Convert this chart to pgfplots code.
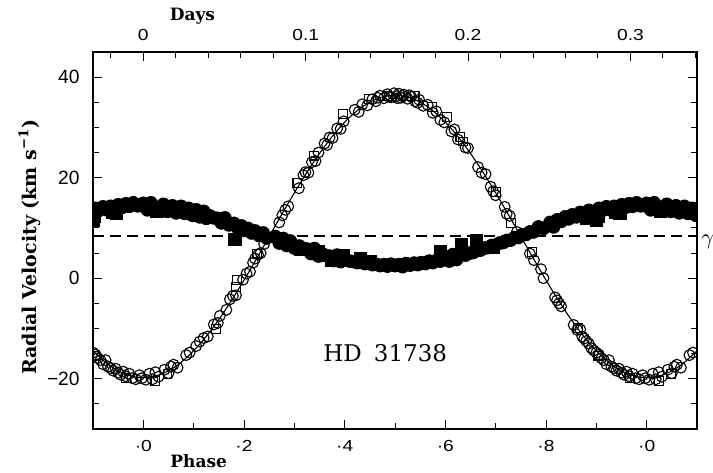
\documentclass[border=0pt]{standalone}
\usepackage{fontspec}
\setmainfont{DejaVu Serif}
\newfontfamily\ticksf{Liberation Sans}
\newfontfamily\ticksfx{Liberation Sans}[FakeStretch=1.2]
\usepackage{pgfplots}
\usepackage{pgfplotstable}
\pgfplotsset{compat=1.18}

% primary, open circles
\pgfplotstableread{
p v
0.005 -20.2
0.012 -19.0
0.018 -20.1
0.024 -18.7
0.030 -19.6
0.042 -18.2
0.050 -18.9
0.055 -17.6
0.060 -17.2
0.068 -17.8
0.085 -15.3
0.092 -14.8
0.105 -13.5
0.112 -12.6
0.120 -11.9
0.128 -11.6
0.140 -9.2
0.148 -8.9
0.152 -7.5
0.165 -6.3
0.172 -4.2
0.178 -3.5
0.184 -3.4
0.198 -0.3
0.205 0.9
0.212 1.3
0.218 3.1
0.222 3.9
0.228 4.7
0.233 5.0
0.240 6.8
0.245 7.9
0.270 11.1
0.276 12.5
0.282 13.6
0.288 14.3
0.309 17.9
0.318 20.5
0.322 21.1
0.328 21.0
0.335 23.1
0.342 23.3
0.348 25.0
0.360 26.8
0.365 26.5
0.370 28.0
0.376 27.9
0.385 29.8
0.392 29.7
0.398 31.2
0.420 33.5
0.428 33.1
0.435 34.6
0.445 34.4
0.455 35.6
0.462 35.2
0.466 35.9
0.470 36.3
0.478 35.8
0.485 36.6
0.488 36.1
0.492 36.0
0.498 36.8
0.503 36.2
0.505 35.8
0.508 36.7
0.512 35.9
0.515 36.3
0.518 36.5
0.525 35.7
0.528 36.4
0.532 36.1
0.540 35.2
0.545 34.9
0.548 35.5
0.556 34.3
0.565 34.5
0.575 32.9
0.582 33.2
0.590 31.5
0.598 31.0
0.612 29.2
0.618 29.6
0.625 27.6
0.640 26.0
0.645 25.9
0.665 22.1
0.672 21.0
0.680 20.7
0.690 18.2
0.695 17.3
0.700 16.5
0.718 14.2
0.722 12.8
0.728 12.4
0.742 9.2
0.748 8.4
0.768 4.9
0.776 3.6
0.790 1.8
0.795 0.0
0.818 -3.8
0.822 -4.4
0.826 -5.0
0.830 -5.6
0.855 -9.3
0.862 -10.3
0.868 -10.2
0.872 -11.6
0.876 -12.0
0.880 -12.5
0.885 -13.0
0.890 -13.9
0.895 -14.4
0.900 -14.8
0.905 -15.2
0.910 -15.9
0.915 -16.3
0.920 -17.1
0.925 -16.3
0.930 -17.6
0.935 -17.9
0.940 -18.4
0.945 -18.0
0.950 -18.8
0.955 -19.2
0.960 -18.6
0.965 -19.5
0.972 -19.0
0.978 -19.9
0.985 -20.1
0.992 -19.3
0.997 -19.9
}\priCirc

% primary, open squares
\pgfplotstableread{
p v
0.024 -20.5
0.048 -19.0
0.144 -10.1
0.184 -1.8
0.186 -0.3
0.226 4.9
0.306 18.9
0.339 24.4
0.397 32.7
0.448 35.7
0.484 36.3
0.539 36.2
0.574 34.1
0.603 32.1
0.630 28.1
0.635 27.2
0.700 17.1
0.730 11.0
0.772 5.2
0.863 -9.9
0.904 -15.4
0.966 -19.9
}\priSq

% secondary, filled circles
\pgfplotstableread{
p v
0.000 14.9
0.008 13.6
0.015 15.0
0.022 14.2
0.040 14.7
0.048 13.3
0.058 14.4
0.065 13.0
0.075 14.3
0.082 12.9
0.090 13.9
0.098 12.5
0.105 13.6
0.112 12.2
0.120 13.3
0.125 11.9
0.132 12.4
0.140 12.0
0.148 11.9
0.155 11.0
0.162 12.0
0.170 10.6
0.180 10.9
0.188 9.9
0.195 10.4
0.200 9.5
0.208 9.9
0.215 9.0
0.222 9.4
0.230 8.5
0.238 9.0
0.245 8.0
0.262 8.3
0.270 7.0
0.278 7.9
0.285 6.5
0.292 7.4
0.300 6.0
0.310 6.4
0.318 5.9
0.325 5.8
0.333 4.9
0.340 5.9
0.348 4.4
0.355 4.9
0.362 4.5
0.370 4.4
0.378 3.5
0.385 4.6
0.392 3.3
0.400 3.7
0.410 3.4
0.418 3.3
0.425 3.1
0.432 3.2
0.440 2.9
0.448 3.0
0.455 2.7
0.462 2.8
0.470 2.5
0.478 2.7
0.485 2.4
0.492 2.8
0.500 2.5
0.508 2.7
0.515 2.3
0.522 2.9
0.530 2.6
0.538 3.0
0.545 2.7
0.552 3.1
0.560 2.9
0.568 3.4
0.575 3.1
0.582 3.5
0.590 3.4
0.600 4.3
0.608 3.4
0.615 4.7
0.622 3.7
0.630 5.0
0.640 4.6
0.648 5.0
0.655 5.1
0.662 5.5
0.670 5.6
0.678 6.0
0.685 6.1
0.692 6.5
0.700 6.6
0.708 7.0
0.715 7.1
0.722 7.5
0.730 7.6
0.738 8.1
0.745 8.1
0.752 8.6
0.760 8.7
0.768 9.2
0.775 9.2
0.785 10.2
0.795 9.9
0.808 11.1
0.815 10.2
0.822 11.6
0.830 11.3
0.838 12.2
0.845 11.8
0.852 12.6
0.860 12.2
0.868 13.1
0.875 12.6
0.885 13.5
0.892 13.0
0.905 13.9
0.912 13.5
0.920 14.2
0.928 13.6
0.935 14.3
0.942 13.9
0.950 14.6
0.958 14.1
0.965 14.8
0.972 14.3
0.980 15.0
0.988 14.4
0.994 14.5
}\secCirc

% secondary, filled squares
\pgfplotstableread{
p v
0.027 13.4
0.182 7.7
0.312 5.7
0.347 5.2
0.375 3.6
0.398 4.5
0.431 3.9
0.451 3.4
0.590 5.3
0.632 6.6
0.662 7.5
0.695 6.2
0.880 11.9
0.900 11.6
0.903 12.4
0.939 13.2
0.947 13.0
}\secSq

\pgfplotsset{
  pc/.style={only marks, mark=o, mark size=2.7pt, black, mark options={line width=0.55pt}},
  ps/.style={only marks, mark=square, mark size=2.2pt, black, mark options={line width=0.55pt}},
  sc/.style={only marks, mark=*, mark size=3.2pt, black, mark options={fill=black}},
  ss/.style={only marks, mark=square*, mark size=3.1pt, black, mark options={fill=black}},
}

\begin{document}
\begin{tikzpicture}
\begin{axis}[
  at={(0,0)}, anchor=south west,
  width=302pt, height=188.5pt, scale only axis,
  xmin=-0.1, xmax=1.1, ymin=-30, ymax=45,
  xtick={0,0.2,0.4,0.6,0.8,1.0},
  xticklabels={·0,·2,·4,·6,·8,·0},
  minor xtick={-0.1,0.1,0.3,0.5,0.7,0.9,1.1},
  xtick pos=left,
  ytick={-20,0,20,40},
  yticklabels={−20,0,20,40},
  minor ytick={-30,-25,...,45},
  ytick pos=both, yticklabel pos=left,
  tick align=inside,
  major tick length=4.5pt, minor tick length=2.8pt,
  tick style={black, line width=0.5pt},
  axis line style={line width=1.4pt},
  xticklabel style={font=\ticksfx\fontsize{8}{9}\selectfont, inner sep=0pt, anchor=base, yshift=-11.3pt},
  yticklabel style={font=\ticksf\fontsize{9.6}{11}\selectfont, inner sep=0pt, anchor=east, xshift=-6.5pt},
  clip marker paths=true,
]
\addplot[black, line width=0.9pt, dash pattern=on 5.5pt off 3pt] coordinates {(-0.1,8.4) (1.1,8.4)};
\addplot[sc] table[x expr=\thisrow{p}, y=v] {\secCirc};
\addplot[sc] table[x expr=\thisrow{p}-1, y=v] {\secCirc};
\addplot[sc] table[x expr=\thisrow{p}+1, y=v] {\secCirc};
\addplot[ss] table[x expr=\thisrow{p}, y=v] {\secSq};
\addplot[ss] table[x expr=\thisrow{p}-1, y=v] {\secSq};
\addplot[ss] table[x expr=\thisrow{p}+1, y=v] {\secSq};
\addplot[black, line width=0.55pt, smooth] coordinates {
(-0.100,-14.43) (-0.075,-16.74) (-0.050,-18.43) (-0.025,-19.45) (0.000,-19.80)
(0.025,-19.45) (0.050,-18.43) (0.075,-16.74) (0.100,-14.43) (0.125,-11.57)
(0.150,-8.22) (0.175,-4.46) (0.200,-0.38) (0.225,3.91) (0.250,8.30)
(0.275,12.69) (0.300,16.98) (0.325,21.06) (0.350,24.82) (0.375,28.17)
(0.400,31.03) (0.425,33.34) (0.450,35.03) (0.475,36.05) (0.500,36.40)
(0.525,36.05) (0.550,35.03) (0.575,33.34) (0.600,31.03) (0.625,28.17)
(0.650,24.82) (0.675,21.06) (0.700,16.98) (0.725,12.69) (0.750,8.30)
(0.775,3.91) (0.800,-0.38) (0.825,-4.46) (0.850,-8.22) (0.875,-11.57)
(0.900,-14.43) (0.925,-16.74) (0.950,-18.43) (0.975,-19.45) (1.000,-19.80)
(1.025,-19.45) (1.050,-18.43) (1.075,-16.74) (1.100,-14.43)};
\addplot[pc] table[x expr=\thisrow{p}, y=v] {\priCirc};
\addplot[pc] table[x expr=\thisrow{p}-1, y=v] {\priCirc};
\addplot[pc] table[x expr=\thisrow{p}+1, y=v] {\priCirc};
\addplot[ps] table[x expr=\thisrow{p}, y=v] {\priSq};
\addplot[ps] table[x expr=\thisrow{p}-1, y=v] {\priSq};
\addplot[ps] table[x expr=\thisrow{p}+1, y=v] {\priSq};
\end{axis}
\begin{axis}[
  at={(0,0)}, anchor=south west,
  width=302pt, height=188.5pt, scale only axis,
  xmin=-0.0310, xmax=0.3410, ymin=-30, ymax=45,
  hide y axis,
  xtick={0,0.1,0.2,0.3},
  xticklabels={0,0.1,0.2,0.3},
  minor xtick={-0.02,0.02,0.04,0.06,0.08,0.12,0.14,0.16,0.18,0.22,0.24,0.26,0.28,0.32,0.34},
  xtick pos=right, xticklabel pos=right,
  tick align=inside,
  major tick length=4.5pt, minor tick length=2.8pt,
  tick style={black, line width=0.5pt},
  axis line style={line width=1.4pt},
  xticklabel style={font=\ticksfx\fontsize{8}{9}\selectfont, inner sep=0pt, anchor=base, yshift=6pt},
]
\end{axis}
\node[rotate=90, anchor=base, font=\bfseries\fontsize{9.5}{11}\selectfont] at (-28.5pt,91pt) {Radial Velocity (km s\textsuperscript{−1})};
\node[anchor=base west, inner sep=0pt, font=\bfseries\fontsize{8.5}{10}\selectfont] at (38.2pt,204.2pt) {Days};
\node[anchor=base west, inner sep=0pt, font=\bfseries\fontsize{8.5}{10}\selectfont] at (38.5pt,-19.3pt) {Phase};
\node[anchor=base west, inner sep=0pt, font=\fontsize{11.5}{13}\selectfont] at (115pt,33.7pt) {HD\hspace{6pt}31738};
\node[anchor=north west, inner sep=0pt, font=\fontsize{11}{13}\selectfont] at (304pt,97pt) {$\gamma$};
\pgfresetboundingbox
\path[use as bounding box] (-46.5pt,-21.5pt) rectangle (310pt,214.5pt);
\end{tikzpicture}
\end{document}
